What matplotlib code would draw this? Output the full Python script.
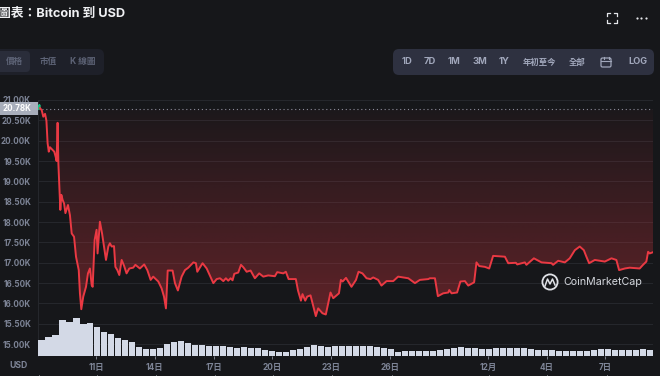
import numpy as np
import matplotlib
matplotlib.use('Agg')
import matplotlib.pyplot as plt
from matplotlib.patches import FancyBboxPatch, Circle, Polygon, Rectangle

# days since Nov 8
days = [0.06, 0.11, 0.14, 0.23, 0.31, 0.40, 0.47, 0.53, 0.59, 0.65, 0.79, 0.87, 0.96, 0.99, 1.04, 1.08, 1.13, 1.18,
        1.23, 1.30, 1.37, 1.44, 1.57, 1.67, 1.76, 1.88, 1.98, 2.12, 2.18, 2.25, 2.35, 2.49, 2.59, 2.69, 2.78, 2.83,
        2.93, 3.03, 3.08, 3.20, 3.31, 3.41, 3.51, 3.63, 3.71, 3.80, 3.92, 3.99, 4.09, 4.19, 4.31, 4.43, 4.56, 4.70,
        4.90, 5.01, 5.24, 5.46, 5.62, 5.79, 5.92, 6.18, 6.35, 6.47, 6.57, 6.66, 6.91, 7.03, 7.18, 7.37, 7.54, 7.71,
        7.97, 8.10, 8.17, 8.44, 8.65, 8.99, 9.16, 9.33, 9.50, 9.63, 9.75, 9.87, 9.97, 10.06, 10.26, 10.40, 10.52,
        10.69, 10.89, 11.11, 11.33, 11.54, 11.79, 12.13, 12.25, 12.56, 12.69, 12.83, 13.20, 13.31, 13.46, 13.54,
        13.68, 13.78, 13.95, 14.12, 14.22, 14.34, 14.56, 14.73, 14.85, 14.97, 15.11, 15.40, 15.50, 15.59, 15.76,
        16.04, 16.27, 16.40, 16.60, 16.81, 17.01, 17.15, 17.40, 17.57, 17.83, 18.17, 18.42, 18.94, 19.28, 19.53,
        19.96, 20.04, 20.30, 20.45, 20.72, 20.98, 21.03, 21.15, 21.43, 21.60, 21.83, 22.00, 22.30, 22.42, 22.56,
        22.85, 23.07, 23.27, 23.87, 24.04, 24.43, 24.50, 24.89, 24.97, 25.35, 25.74, 26.25, 26.33, 26.59, 26.93,
        27.18, 27.44, 27.69, 27.90, 28.03, 28.17, 28.46, 28.97, 29.31, 29.56, 29.70, 29.99, 30.24, 30.75, 30.92,
        31.09, 31.18, 31.26, 31.43]
price = [20.78, 20.88, 20.80, 20.75, 20.59, 20.66, 20.49, 19.94, 19.73, 19.84, 19.77, 19.73, 19.57, 19.50, 20.44, 19.44,
         18.87, 18.30, 18.67, 18.54, 18.46, 18.22, 18.42, 18.17, 17.72, 17.64, 17.15, 16.82, 16.25, 15.86, 16.17, 16.41,
         16.74, 16.86, 16.45, 16.41, 17.56, 17.81, 17.23, 18.01, 17.72, 17.40, 17.07, 17.40, 17.48, 17.40, 17.41, 16.90,
         16.82, 16.70, 17.07, 16.93, 16.74, 16.86, 16.88, 16.95, 16.86, 16.96, 16.82, 16.58, 16.66, 16.54, 16.37, 16.17,
         15.88, 16.81, 16.81, 16.50, 16.32, 16.66, 16.82, 16.88, 17.01, 16.99, 16.78, 16.99, 16.86, 16.50, 16.60, 16.62,
         16.55, 16.62, 16.56, 16.62, 16.57, 16.73, 16.76, 16.95, 16.89, 16.78, 16.81, 16.62, 16.74, 16.66, 16.69, 16.67,
         16.77, 16.74, 16.78, 16.60, 16.60, 16.32, 16.07, 16.23, 16.07, 16.17, 16.20, 15.88, 15.69, 15.88, 15.76, 15.73,
         16.00, 16.27, 16.13, 16.25, 16.58, 16.54, 16.63, 16.41, 16.58, 16.78, 16.74, 16.62, 16.60, 16.64, 16.58, 16.44,
         16.55, 16.55, 16.66, 16.62, 16.50, 16.58, 16.60, 16.62, 16.62, 16.18, 16.25, 16.27, 16.33, 16.25, 16.27, 16.54,
         16.55, 16.44, 16.52, 17.01, 16.92, 16.90, 16.86, 17.17, 17.15, 16.99, 17.00, 16.96, 17.01, 16.95, 17.11, 17.01,
         16.99, 16.95, 17.05, 17.01, 17.11, 17.31, 17.40, 17.31, 17.15, 16.99, 17.07, 17.03, 17.11, 17.07, 16.82, 16.86,
         16.88, 16.86, 16.95, 17.03, 17.27, 17.23, 17.26]
base_price = 20.78

# volume bars, arbitrary units
volume = [48, 58, 62, 108, 103, 115, 96, 98, 88, 72, 66, 53, 48, 42, 26, 22, 22, 25, 35, 43, 44, 38, 34, 32, 31, 31, 30,
          28, 24, 26, 25, 24, 19, 15, 13, 13, 17, 20, 27, 33, 30, 28,
          30, 30, 30, 30, 30, 30, 26, 23, 20, 13, 16, 15, 15, 15, 16, 18, 22, 23, 26, 25, 23, 21, 21, 23, 25, 25, 24,
          23, 20, 19, 18, 17, 16, 14, 15, 15, 16, 18, 20, 20, 19, 18, 18, 19, 20, 19]

y_ticks = [15.0, 15.5, 16.0, 16.5, 17.0, 17.5, 18.0, 18.5, 19.0, 19.5, 20.0, 20.5, 21.0]
x_ticks = [3, 6, 9, 12, 15, 18, 23, 26, 29]
x_labels = ['11日', '14日', '17日', '20日', '23日', '26日', '12月', '4日', '7日']
range_btns = ['1D', '7D', '1M', '3M', '1Y', '年初至今', '全部']
range_pos = [407, 430, 454, 480, 504, 539, 577]
range_size = [6.8, 6.8, 6.8, 6.8, 6.8, 6.0, 6.0]

BG = '#16171a'
RED = '#ea3943'
FONTS = ['Inter', 'Noto Sans CJK TC', 'DejaVu Sans']
plt.rcParams['font.family'] = FONTS

W, H = 660., 376.
fig = plt.figure(figsize=(6.6, 3.76), dpi=100, facecolor=BG)
ax = fig.add_axes([38/W, 1-356/H, 615/W, 256/H], facecolor=BG)

# gradient area between the price and the opening price
grad = np.zeros((256, 2, 4))
grad[:, :, :3] = matplotlib.colors.to_rgb(RED)
grad[:, :, 3] = np.linspace(0.03, 0.36, 256)[:, None]
im = ax.imshow(grad, extent=[0.04, 31.43, 15.6, base_price], aspect='auto', zorder=1)
poly = Polygon(list(zip(days, price)) + [(31.43, base_price), (0.06, base_price)], closed=True, transform=ax.transData)
im.set_clip_path(poly)

ax.plot(days[:3], price[:3], color='#16c784', lw=1.4, zorder=3)
ax.plot(days[2:], price[2:], color=RED, lw=1.4, zorder=3, solid_joinstyle='round')
ax.axhline(base_price, color='#8a8f9c', lw=0.8, ls=(0, (1, 2.5)), zorder=2)

ax.set_xlim(0.04, 31.43)
ax.set_ylim(14.71, 21.0)
ax.set_yticks(y_ticks)
ax.set_yticklabels(['%.2fK' % v for v in y_ticks], fontsize=5.8, color='#7d8496', fontweight='bold')
ax.set_xticks(x_ticks)
ax.set_xticklabels(x_labels, fontsize=6.0, color='#7d8496', fontweight='bold')
ax.tick_params(axis='y', length=0, pad=5)
ax.tick_params(axis='x', length=2, width=0.6, color='#8a8f9c', pad=3)
ax.grid(axis='y', color='#25272c', lw=0.8, zorder=0)
ax.set_axisbelow(True)
for s in ['top', 'right', 'bottom']:
    ax.spines[s].set_visible(False)
ax.spines['left'].set_color('#25272c')

ax_vol = ax.twinx()
ax_vol.set_ylim(0, 768)
ax_vol.set_yticks([])
ax_vol.patch.set_alpha(0)
for s in ax_vol.spines.values():
    s.set_visible(False)
vol_days = 0.04 + 0.357*(np.arange(len(volume)) + 0.5)
ax_vol.bar(vol_days, volume, width=0.31, color='#d3d9e6', zorder=2)

# page furniture in pixel coordinates
ui = fig.add_axes([0, 0, 1, 1])
ui.set_xlim(0, W)
ui.set_ylim(H, 0)
ui.axis('off')

ui.text(-2, 14, '圖表：Bitcoin 到 USD', fontsize=9.2, fontweight='bold', color='#f0f1f4', va='center', ha='left')

ui.add_patch(FancyBboxPatch((-10, 49), 114, 26, boxstyle='round,pad=0,rounding_size=6', fc='#1e2029', ec='none'))
ui.add_patch(FancyBboxPatch((-8, 51), 38, 21, boxstyle='round,pad=0,rounding_size=4', fc='#2a2d3a', ec='none'))
for txt, x in zip(['價格', '市值', 'K 線圖'], [15, 48, 83]):
    ui.text(x, 61.5, txt, fontsize=6.2, color='#5d6376', ha='center', va='center', fontweight='bold')

ui.add_patch(FancyBboxPatch((393, 49), 261, 26, boxstyle='round,pad=0,rounding_size=6', fc='#2e3140', ec='none'))
for txt, x, fs in zip(range_btns, range_pos, range_size):
    ui.text(x, 62, txt, fontsize=fs, color='#a1a7bb', ha='center', va='center', fontweight='bold')
ui.text(638, 61, 'LOG', fontsize=6.6, color='#a1a7bb', ha='center', va='center', fontweight='bold')
# calendar icon
ui.add_patch(FancyBboxPatch((601, 58), 10, 9, boxstyle='round,pad=0,rounding_size=1.5', fc='none', ec='#a1a7bb', lw=0.9))
ui.plot([601, 611], [61, 61], color='#a1a7bb', lw=0.8)
ui.plot([603.5, 603.5], [56.5, 58.5], color='#a1a7bb', lw=0.8)
ui.plot([608.5, 608.5], [56.5, 58.5], color='#a1a7bb', lw=0.8)

# fullscreen corners and dots
for cx, cy, dx, dy in [(607, 13, 1, 1), (617, 13, -1, 1), (607, 23, 1, -1), (617, 23, -1, -1)]:
    ui.plot([cx + 3*dx, cx, cx], [cy, cy, cy + 3*dy], color='#e4e6ea', lw=0.9)
ui.scatter([636.5, 641, 645.5], [18, 18, 18], s=2.5, color='#e4e6ea', lw=0)

# current price box
ui.add_patch(Rectangle((0, 102), 38, 13, fc='#a8aebb', ec='none'))
ui.text(17, 108.5, '20.78K', fontsize=5.8, color='white', ha='center', va='center', fontweight='bold')
ui.text(18, 366, 'USD', fontsize=6.2, color='#7d8496', ha='center', va='center', fontweight='bold')

# watermark
ui.add_patch(Circle((550, 282), 7.6, fc='none', ec='#dfe1e6', lw=1.3))
ui.plot([545, 547.5, 550, 552.5, 555], [286, 279, 284, 279, 285], color='#dfe1e6', lw=1.1)
ui.text(563, 282, 'CoinMarketCap', fontsize=7.7, color='#d3d6dc', ha='left', va='center')

# cropped marks at the bottom edge
ui.vlines([39, 97, 156, 215, 273, 332, 392, 489, 547, 607], 374.5, 376, color='#c8ccd4', lw=0.7)

fig.savefig('out.png', dpi=100, facecolor=BG)
